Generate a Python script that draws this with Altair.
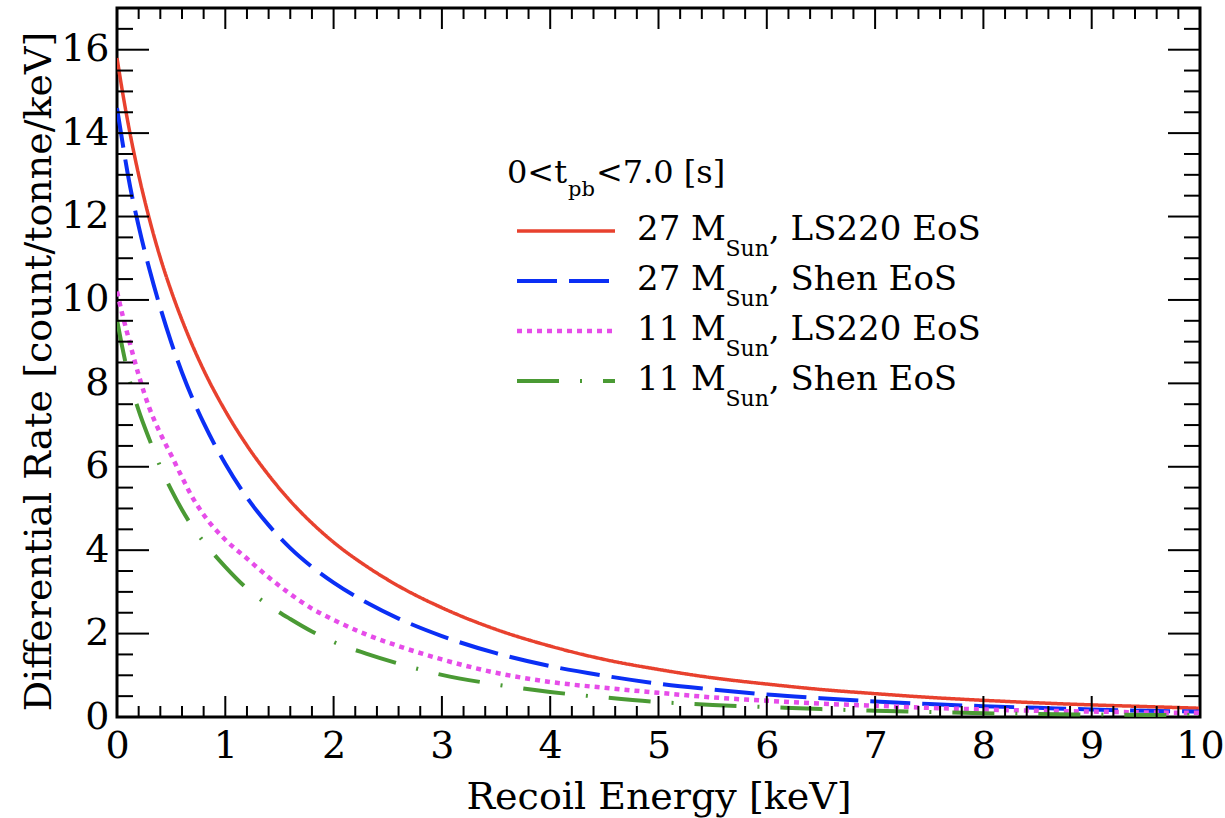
import altair as alt
import pandas as pd

# ---------------- data ----------------
X = [0, 0.05, 0.1, 0.2, 0.3, 0.4, 0.5, 0.6, 0.7, 0.8, 1.0, 1.2, 1.4, 1.6, 1.8,
     2.0, 2.3, 2.6, 3.0, 3.5, 4.0, 4.5, 5.0, 5.5, 6.0, 6.5, 7.0, 7.5, 8.0, 8.5,
     9.0, 9.5, 10.0]
RED_27_LS220 = [15.8, 15.0, 14.27, 13.0, 11.93, 11.01, 10.22, 9.52, 8.89, 8.32,
                7.34, 6.51, 5.8, 5.18, 4.65, 4.19, 3.62, 3.14, 2.62, 2.1, 1.7,
                1.38, 1.14, 0.94, 0.79, 0.66, 0.56, 0.47, 0.4, 0.34, 0.29, 0.25,
                0.21]
BLUE_27_SHEN = [14.6, 13.79, 13.01, 11.77, 10.73, 9.81, 8.99, 8.26, 7.62, 7.05,
                6.07, 5.26, 4.6, 4.05, 3.6, 3.22, 2.75, 2.36, 1.94, 1.53, 1.22,
                0.99, 0.8, 0.66, 0.54, 0.45, 0.37, 0.31, 0.26, 0.22, 0.18, 0.15,
                0.13]
MAG_11_LS220 = [10.2, 9.65, 9.15, 8.2, 7.4, 6.8, 6.28, 5.75, 5.25, 4.85, 4.25,
                3.8, 3.35, 2.95, 2.6, 2.33, 1.98, 1.7, 1.38, 1.06, 0.84, 0.7,
                0.58, 0.47, 0.39, 0.32, 0.27, 0.22, 0.18, 0.15, 0.13, 0.11, 0.1]
GRN_11_SHEN = [9.52, 8.85, 8.25, 7.35, 6.65, 6.0, 5.45, 4.97, 4.55, 4.2, 3.6,
               3.08, 2.68, 2.35, 2.05, 1.8, 1.52, 1.28, 1.01, 0.78, 0.6, 0.47,
               0.36, 0.29, 0.24, 0.19, 0.15, 0.12, 0.09, 0.07, 0.06, 0.05, 0.05]

MASSES = ["27", "27", "11", "11"]
EOS = ["LS220", "Shen", "LS220", "Shen"]
SERIES = [RED_27_LS220, BLUE_27_SHEN, MAG_11_LS220, GRN_11_SHEN]
COLORS = ["#e8412e", "#0b2ff5", "#e64ce9", "#4a9a34"]
DASHES = [[1, 0], [40, 12], [5, 5], [42, 21, 2, 21]]
WIDTHS = [3.5, 4, 4.5, 4]

X_TICKS = [0, 1, 2, 3, 4, 5, 6, 7, 8, 9, 10]
X_MINOR = [round(i * 0.2, 1) for i in range(51) if i % 5 != 0]
Y_TICKS = [0, 2, 4, 6, 8, 10, 12, 14, 16]
Y_MINOR = [i * 0.5 for i in range(34) if i % 4 != 0]

HEADER = ["0<t", "pb", "<7.0 [s]"]
X_TITLE = "Recoil Energy [keV]"
Y_TITLE = "Differential Rate [count/tonne/keV]"

# ---------------- layout ----------------
W, H = 1083, 709
FONT = "DejaVu Serif"
LEG_FS, SUB_FS = 34, 22
HEAD_FS, HEAD_SUB_FS = 32, 21

# approximate DejaVu Serif advance widths (em/1000)
GLYPH_W = {" ": 318, ",": 318, ".": 318, "<": 838, "[": 390, "]": 390, "s": 514,
           "t": 402, "p": 641, "b": 641, "M": 952, "S": 651, "u": 641, "n": 641,
           "L": 680, "E": 729, "o": 602, "h": 641, "e": 592}


def tw(s, fs):
    return sum(GLYPH_W.get(c, 636) for c in s) / 1000.0 * fs


xs = alt.Scale(domain=[0, 10], nice=False, zero=False)
ys = alt.Scale(domain=[0, 17], nice=False, zero=False)
xaxis = alt.Axis(values=X_TICKS, title=X_TITLE, labelPadding=10, titleX=W / 2,
                 titleY=91, titleAlign="center", titleBaseline="alphabetic",
                 format="d", labelFlush=False)
yaxis = alt.Axis(values=Y_TICKS, title=Y_TITLE, labelPadding=8, titleX=-67,
                 titleY=363, titleAngle=270, titleAlign="center",
                 titleBaseline="alphabetic", format="d", labelFlush=False)

layers = []
for vals, col, dash, wd in zip(SERIES, COLORS, DASHES, WIDTHS):
    df = pd.DataFrame({"x": X, "y": vals})
    layers.append(
        alt.Chart(df).mark_line(color=col, strokeDash=dash, strokeWidth=wd,
                                interpolate="monotone", clip=True)
        .encode(x=alt.X("x:Q", scale=xs, axis=xaxis),
                y=alt.Y("y:Q", scale=ys, axis=yaxis))
    )


# inward ticks on all four sides
def xticks(vals, length):
    d = pd.DataFrame({"x": vals})
    bot = alt.Chart(d).mark_rule(color="black", strokeWidth=2).encode(
        x=alt.X("x:Q", scale=xs, axis=xaxis), y=alt.value(H), y2=alt.value(H - length))
    top = alt.Chart(d).mark_rule(color="black", strokeWidth=2).encode(
        x=alt.X("x:Q", scale=xs, axis=xaxis), y=alt.value(0), y2=alt.value(length))
    return [bot, top]


def yticks(vals, length):
    d = pd.DataFrame({"y": vals})
    left = alt.Chart(d).mark_rule(color="black", strokeWidth=2).encode(
        y=alt.Y("y:Q", scale=ys, axis=yaxis), x=alt.value(0), x2=alt.value(length))
    right = alt.Chart(d).mark_rule(color="black", strokeWidth=2).encode(
        y=alt.Y("y:Q", scale=ys, axis=yaxis), x=alt.value(W), x2=alt.value(W - length))
    return [left, right]


layers += xticks(X_TICKS, 21) + xticks(X_MINOR, 11)
layers += yticks(Y_TICKS, 32) + yticks(Y_MINOR, 16)

# legend
one = pd.DataFrame({"a": [0]})
LX0, LX1, TX = 400, 498, 520
ROW0, DROW = 223, 50
HEAD_X, HEAD_Y = 390, 175
MAIN_DY, SUB_DY = 9, 25


def text(s, x, y, fs):
    return alt.Chart(one).mark_text(text=s, align="left", baseline="alphabetic",
                                    font=FONT, fontSize=fs, color="black").encode(
        x=alt.value(x), y=alt.value(y))


x = HEAD_X
layers.append(text(HEADER[0], x, HEAD_Y, HEAD_FS))
x += tw(HEADER[0], HEAD_FS) + 1
layers.append(text(HEADER[1], x, HEAD_Y + 13, HEAD_SUB_FS))
x += tw(HEADER[1], HEAD_SUB_FS) + 1
layers.append(text(HEADER[2], x, HEAD_Y, HEAD_FS))

for i, (m, e, col, dash, wd) in enumerate(zip(MASSES, EOS, COLORS, DASHES, WIDTHS)):
    yy = ROW0 + i * DROW
    layers.append(alt.Chart(one).mark_rule(color=col, strokeDash=dash, strokeWidth=wd)
                  .encode(x=alt.value(LX0), x2=alt.value(LX1), y=alt.value(yy)))
    p1 = m + " M"
    p3 = ", " + e + " EoS"
    x = TX
    layers.append(text(p1, x, yy + MAIN_DY, LEG_FS))
    x += tw(p1, LEG_FS) + 2
    layers.append(text("Sun", x, yy + SUB_DY, SUB_FS))
    x += tw("Sun", SUB_FS) + 1
    layers.append(text(p3, x, yy + MAIN_DY, LEG_FS))

chart = alt.layer(*layers).properties(
    width=W, height=H,
    padding={"left": 117, "top": 8, "right": 25, "bottom": 101},
    autosize=alt.AutoSizeParams(type="none"),
).configure_view(stroke="black", strokeWidth=3).configure_axis(
    labelFont=FONT, labelFontSize=38, labelColor="black",
    titleFont=FONT, titleFontSize=38, titleFontWeight="normal", titleColor="black",
    domain=False, ticks=False, grid=False,
)

chart.save("out.html", embed_options={"renderer": "svg", "actions": False})
